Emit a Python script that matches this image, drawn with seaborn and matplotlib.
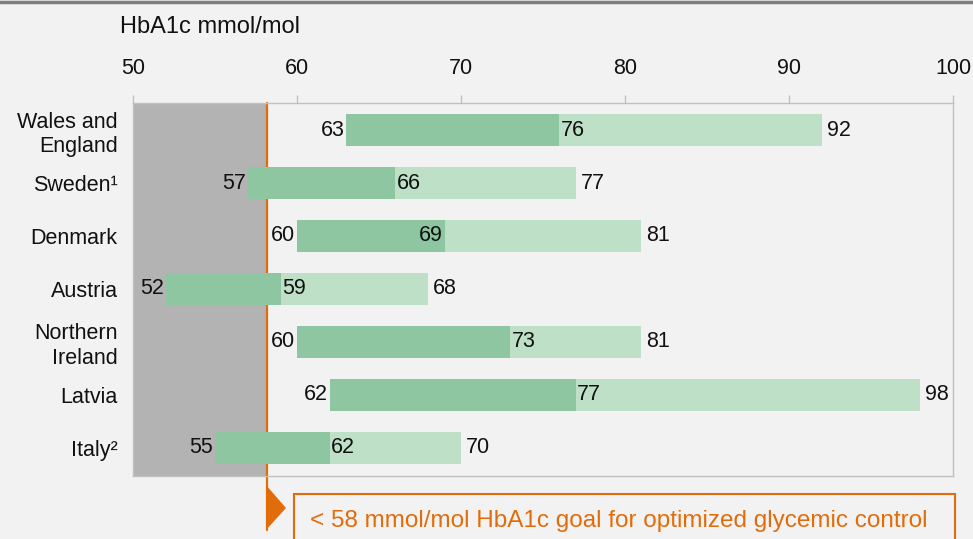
import numpy as np
import pandas as pd
import matplotlib.pyplot as plt
import seaborn as sns
from matplotlib.patches import Polygon, Rectangle
from matplotlib.lines import Line2D

# Data (HbA1c mmol/mol ranges per country)
countries = ['Wales and\nEngland', 'Sweden¹', 'Denmark', 'Austria',
             'Northern\nIreland', 'Latvia', 'Italy²']
low = [63, 57, 60, 52, 60, 62, 55]
median = [76, 66, 69, 59, 73, 77, 62]
high = [92, 77, 81, 68, 81, 98, 70]
target = 58
x_ticks = [50, 60, 70, 80, 90, 100]
goal_text = '< 58 mmol/mol HbA1c goal for optimized glycemic control'

# Colours
bg = '#F2F2F2'
dark_green = '#8DC6A1'
light_green = '#BDE0C6'
grey_zone = '#B3B3B3'
orange = '#E36C0A'
frame = '#C0C0C0'
ink = '#111111'
fs = 15.5

df = pd.DataFrame({'country': countries, 'low': low, 'median': median, 'high': high})
df['lower_span'] = df['median'] - df['low']
df['upper_span'] = df['high'] - df['median']

sns.set_style('white')
plt.rcParams['font.family'] = ['Liberation Sans', 'DejaVu Sans']

W, H = 973, 539
fig = plt.figure(figsize=(W / 100, H / 100), dpi=100, facecolor=bg)
ax = fig.add_axes([133 / W, 1 - 476 / H, (953 - 133) / W, (476 - 103) / H])
ax.set_facecolor(bg)

# Stacked range bars
sns.barplot(data=df, x='lower_span', y='country', left=df['low'], color=dark_green,
            width=0.6, errorbar=None, linewidth=0, saturation=1, ax=ax, zorder=2)
sns.barplot(data=df, x='upper_span', y='country', left=df['median'], color=light_green,
            width=0.6, errorbar=None, linewidth=0, saturation=1, ax=ax, zorder=2)

# Shaded target zone
ax.axvspan(50, target + 0.1, color=grey_zone, zorder=0.5, lw=0)

ax.set_xlim(50, 100)
ax.set_ylim(6.53, -0.51)
ax.set_xlabel('')
ax.set_ylabel('')

ax.xaxis.tick_top()
ax.set_xticks(x_ticks)
ax.tick_params(axis='x', length=6, width=1, color=frame, labelsize=fs, pad=11,
               labelcolor=ink)
ax.tick_params(axis='y', length=0, labelsize=fs, pad=11, labelcolor=ink)
for s in ax.spines.values():
    s.set_color(frame)
    s.set_linewidth(1)
    s.set_visible(True)

# Value labels
med_align = ['left', 'left', 'right', 'left', 'left', 'left', 'left']
for i in range(len(countries)):
    ax.text(low[i] - 0.1, i, str(low[i]), ha='right', va='center', fontsize=fs,
            color=ink, zorder=4)
    off = 0.08 if med_align[i] == 'left' else -0.1
    ax.text(median[i] + off, i, str(median[i]), ha=med_align[i], va='center',
            fontsize=fs, color=ink, zorder=4)
    ax.text(high[i] + 0.3, i, str(high[i]), ha='left', va='center', fontsize=fs,
            color=ink, zorder=4,
            bbox=dict(facecolor=bg, edgecolor='none', pad=0.5))

# Target line extending below the chart (sits behind the bars)
ax.plot([target + 0.15, target + 0.15], [1, -0.145], transform=ax.get_xaxis_transform(),
        clip_on=False, color=orange, lw=1.6, zorder=1.5)

# Axis title
fig.text(120 / W, 1 - 27 / H, 'HbA1c mmol/mol', ha='left', va='center',
         fontsize=17, color=ink)

# Top border line
fig.add_artist(Line2D([0, 1], [1 - 1.5 / H, 1 - 1.5 / H], color='#7F7F7F', lw=2.5))

# Pointer triangle and goal box
tri = Polygon([(266 / W, 1 - 485 / H), (286 / W, 1 - 508 / H), (266 / W, 1 - 530 / H)],
              closed=True, transform=fig.transFigure, facecolor=orange, edgecolor='none')
fig.add_artist(tri)
box = Rectangle((294 / W, 1 - 560 / H), (955 - 294) / W, (560 - 494) / H,
                transform=fig.transFigure, facecolor=bg, edgecolor=orange, lw=1.5)
fig.add_artist(box)
fig.text(619 / W, 1 - 521 / H, goal_text, ha='center', va='center', fontsize=17.5,
         color=orange)

fig.savefig('out.png', dpi=100, facecolor=bg)
